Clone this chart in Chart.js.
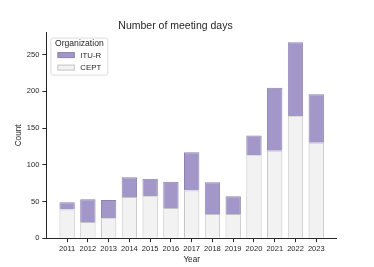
<!DOCTYPE html>
<html>
<head>
<meta charset="utf-8">
<script src="https://cdn.jsdelivr.net/npm/chart.js@4"></script>
<style>
  html, body { margin: 0; padding: 0; background: #fff; }
</style>
</head>
<body>
<canvas id="chart" width="374" height="267"></canvas>
<script>
const years = [2011, 2012, 2013, 2014, 2015, 2016, 2017, 2018, 2019, 2020, 2021, 2022, 2023];
const cept = [39, 22, 27, 56, 57, 41, 65, 33, 33, 113, 119, 166, 130];
const itur = [10, 31, 25, 27, 24, 36, 52, 43, 24, 27, 86, 101, 66];

const font = "'Liberation Sans', Arial, sans-serif";
const ink = "#262626";

// matplotlib-style legend box in the upper left of the axes
const boxLegend = {
  id: "boxLegend",
  afterDraw(chart) {
    const ctx = chart.ctx;
    const a = chart.chartArea;
    const x0 = a.left + 4, y0 = a.top + 5;
    ctx.save();
    ctx.fillStyle = "rgba(255,255,255,0.8)";
    ctx.strokeStyle = "#dddddd";
    ctx.lineWidth = 1;
    ctx.beginPath();
    ctx.roundRect(x0 + 0.5, y0 + 0.5, 57, 37, 2);
    ctx.fill();
    ctx.stroke();

    ctx.fillStyle = ink;
    ctx.textBaseline = "middle";
    ctx.textAlign = "center";
    ctx.font = "8.6px " + font;
    ctx.fillText("Organization", x0 + 29, y0 + 6.5);

    ctx.textAlign = "left";
    ctx.font = "7.8px " + font;
    const items = chart.data.datasets.slice().reverse();
    items.forEach((ds, i) => {
      const cy = y0 + 17.5 + i * 12.5;
      ctx.fillStyle = ds.backgroundColor;
      ctx.strokeStyle = ds.borderColor;
      ctx.fillRect(x0 + 7.5, cy - 2.5, 16.5, 5);
      ctx.strokeRect(x0 + 7.5, cy - 2.5, 16.5, 5);
      ctx.fillStyle = ink;
      ctx.fillText(ds.label, x0 + 30, cy + 0.5);
    });
    ctx.restore();
  }
};

new Chart(document.getElementById("chart"), {
  type: "bar",
  data: {
    datasets: [
      {
        label: "CEPT",
        data: years.map((y, i) => ({ x: y, y: cept[i] })),
        backgroundColor: "#f2f2f2",
        borderColor: "#c4c4c4",
        borderWidth: 1
      },
      {
        label: "ITU-R",
        data: years.map((y, i) => ({ x: y, y: itur[i] })),
        backgroundColor: "#a297c8",
        borderColor: "#8c83ad",
        borderWidth: 1
      }
    ]
  },
  options: {
    responsive: false,
    animation: false,
    devicePixelRatio: 1,
    layout: { padding: { left: 14, right: 37, top: 0, bottom: 0 } },
    datasets: { bar: { categoryPercentage: 1, barPercentage: 0.74 } },
    plugins: {
      title: {
        display: true,
        text: "Number of meeting days",
        color: ink,
        font: { family: font, size: 10.5, weight: "normal" },
        padding: { top: 20, bottom: 0 }
      },
      legend: { display: false },
      tooltip: { enabled: false }
    },
    scales: {
      x: {
        type: "linear",
        stacked: true,
        offset: false,
        min: 2010,
        max: 2024,
        afterBuildTicks: s => { s.ticks = s.ticks.filter(t => t.value > 2010 && t.value < 2024); },
        ticks: { stepSize: 1, color: ink, font: { family: font, size: 7.5 }, padding: 2, callback: v => String(v), maxRotation: 0, autoSkip: false },
        grid: { display: true, drawOnChartArea: false, tickLength: 4, color: ink, offset: false },
        border: { color: ink, width: 1 },
        title: { display: true, text: "Year", color: ink, font: { family: font, size: 8.2 }, padding: { top: 0, bottom: 2 } }
      },
      y: {
        stacked: true,
        min: 0,
        max: 280,
        afterBuildTicks: s => { s.ticks = s.ticks.filter(t => t.value % 50 === 0); },
        ticks: { stepSize: 50, color: ink, font: { family: font, size: 7.5 }, padding: 3 },
        grid: { display: true, drawOnChartArea: false, tickLength: 4, color: ink },
        border: { color: ink, width: 1 },
        title: { display: true, text: "Count", color: ink, font: { family: font, size: 8.2 }, padding: { top: 0, bottom: 0 } }
      }
    }
  },
  plugins: [boxLegend]
});
</script>
</body>
</html>
